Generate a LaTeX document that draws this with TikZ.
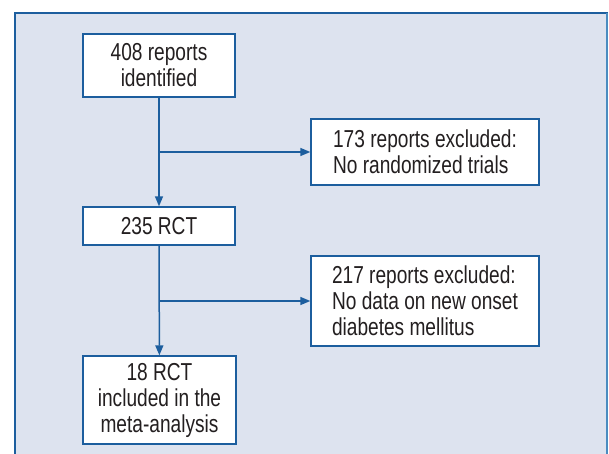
\documentclass[tikz,border=0pt]{standalone}
\usepackage{fontspec}
\setmainfont[FakeStretch=0.78]{Liberation Sans}
\usetikzlibrary{arrows.meta}
\definecolor{panelbg}{RGB}{221,227,239}
\definecolor{flowblue}{RGB}{28,94,158}
\definecolor{edgeblue}{RGB}{74,140,192}
\definecolor{txtgray}{RGB}{35,31,32}

\begin{document}
\begin{tikzpicture}[x=1pt, y=-1pt,
    box/.style={draw=flowblue, line width=1.4pt, fill=white, text=txtgray, font=\fontsize{24.5}{26}\selectfont, inner sep=0pt},
    flow/.style={draw=flowblue, line width=1.5pt, -{Triangle[length=10pt, width=8pt]}}]
    \useasboundingbox (0,0) rectangle (609,454);
    \clip (0,0) rectangle (609,454);
    % background panel
    \draw[fill=panelbg, draw=flowblue, line width=1.4pt] (15,13) rectangle (607,470);
    \draw[edgeblue, line width=2.5pt] (607,13) -- (607,470);
    % boxes
    \node[box, minimum width=152pt, minimum height=63pt, align=center] (reports) at (159,65.5) {408 reports\\identified};
    \node[box, minimum width=228pt, minimum height=66pt, align=left] (excl1) at (425,152) {173 reports excluded:\\No randomized trials};
    \node[box, minimum width=152pt, minimum height=38pt, align=center] (rct) at (159,226) {235 RCT};
    \node[box, minimum width=228pt, minimum height=90pt, align=left] (excl2) at (425,301) {217 reports excluded:\\No data on new onset\\diabetes mellitus};
    \node[box, minimum width=153pt, minimum height=88pt, align=center] (final) at (159.5,400) {18 RCT\\included in the\\meta-analysis};
    % connectors
    \coordinate (split1) at (reports.south |- excl1.west);
    \coordinate (split2) at (rct.south |- excl2.west);
    \draw[flow] (reports) -- (rct);
    \draw[flow] (split1) -- (excl1);
    \draw[flow] (rct) -- (final);
    \draw[flow] (split2) -- (excl2);
\end{tikzpicture}
\end{document}
